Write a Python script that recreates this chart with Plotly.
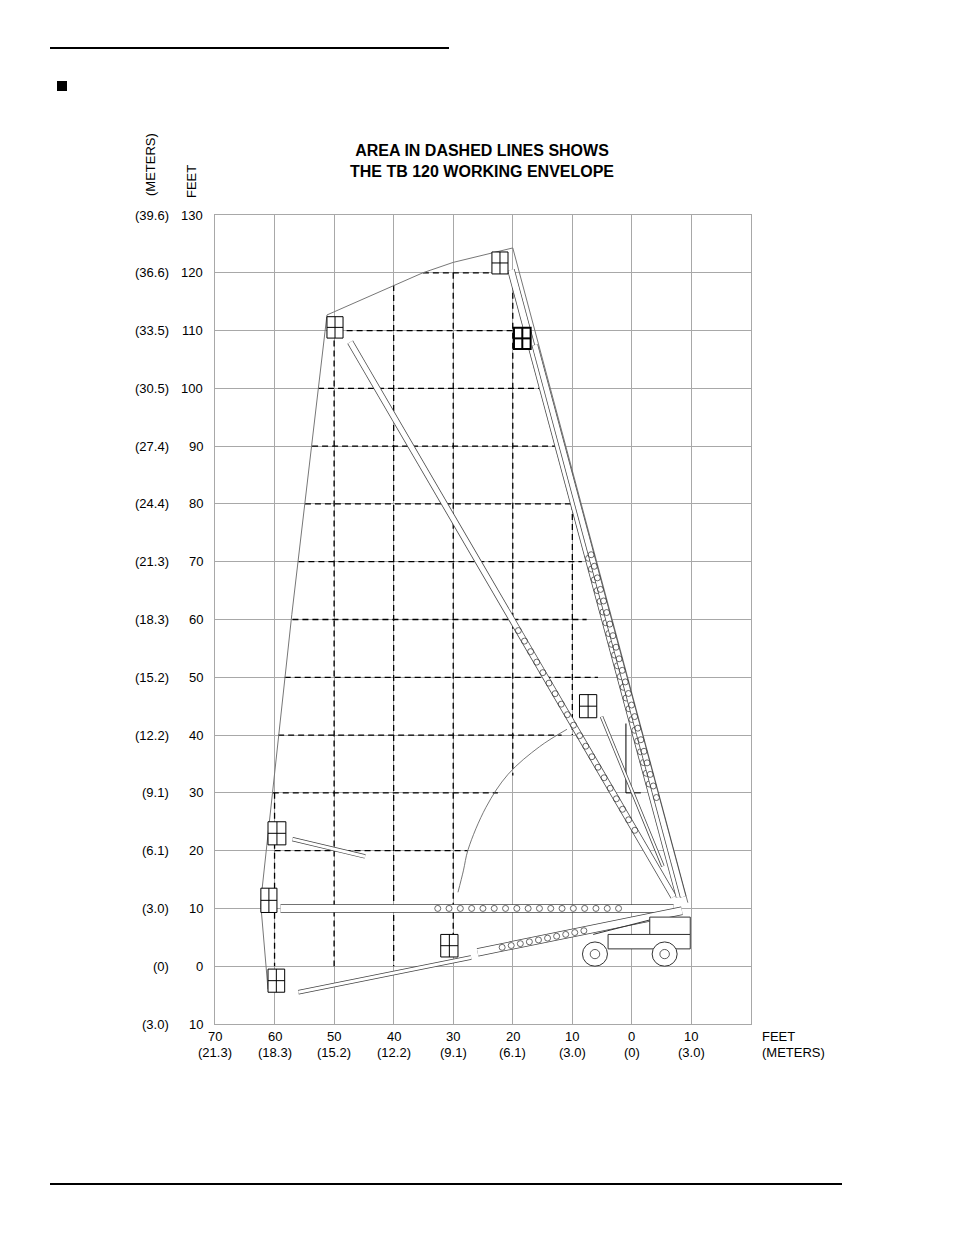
import numpy as np
import plotly.graph_objects as go

# ---- data (feet) ----
x_ticks = [70, 60, 50, 40, 30, 20, 10, 0, -10]
x_tick_ft = ["70", "60", "50", "40", "30", "20", "10", "0", "10"]
x_tick_m = ["(21.3)", "(18.3)", "(15.2)", "(12.2)", "(9.1)", "(6.1)", "(3.0)", "(0)", "(3.0)"]
y_ticks = [130, 120, 110, 100, 90, 80, 70, 60, 50, 40, 30, 20, 10, 0, -10]
y_tick_ft = ["130", "120", "110", "100", "90", "80", "70", "60", "50", "40", "30", "20", "10", "0", "10"]
y_tick_m = ["(39.6)", "(36.6)", "(33.5)", "(30.5)", "(27.4)", "(24.4)", "(21.3)", "(18.3)",
            "(15.2)", "(12.2)", "(9.1)", "(6.1)", "(3.0)", "(0)", "(3.0)"]

# dashed envelope grid
dash_h_y = [120, 110, 100, 90, 80, 70, 60, 50, 40, 30, 20]
dash_h_x0 = [35.1, 47.9, 52.7, 53.7, 54.9, 56.0, 57.0, 58.3, 59.4, 60.3, 60.0]
dash_h_x1 = [20.0, 20.0, 14.6, 11.8, 10.0, 8.4, 7.6, 5.7, 11.8, 22.5, 27.6]
dash_v_x = [60, 50, 40, 30, 20, 10]
dash_v_y0 = [30, 110, 117.9, 120, 120, 80]
dash_v_y1 = [0, 0, 0, 4, 33, 40]

# outer envelope outline
env_x = [20.0, 23.5, 30.0, 35.1, 39.8, 45.5, 51.2, 57.1, 60.4, 62.1, 62.3, 62.1, 61.1]
env_y = [124.3, 123.4, 121.8, 120.0, 117.9, 115.3, 112.7, 60.9, 30.0, 13.3, 10.5, 8.1, -4.0]
right_x = [20.0, -9.4]
right_y = [124.3, 11.0]
# inner swing arc
arc_x = [29.2, 28.3, 27.5, 24.5, 20.8, 15.5, 10.9]
arc_y = [12.8, 16.5, 20.2, 27.5, 33.2, 38.0, 41.0]

# booms: start (platform end) -> end (turntable end)
boom_x0 = [47.3, 20.3, 16.3, 57.0, 59.0, 25.9, 56.0, 5.1]
boom_y0 = [108.0, 120.5, 107.5, 22.0, 10.0, 2.4, -4.5, 43.2]
boom_x1 = [-7.0, -8.0, -8.6, 44.8, -7.0, -8.4, 27.0, -5.2]
boom_y1 = [12.0, 12.0, 12.0, 19.0, 10.0, 9.6, 1.5, 17.3]
boom_w = [5, 6, 5, 3, 7, 7, 3, 2]
# perforated section of each boom (fraction along boom, hole count)
hole_f0 = [0.52, 0.46, 0.38, 0, 0.4, 0.12, 0, 0]
hole_f1 = [0.88, 0.82, 0.82, 0, 0.86, 0.52, 0, 0]
hole_n = [20, 22, 22, 0, 17, 10, 0, 0]

# platforms (left, right, bottom, top)
plat_x0 = [51.2, 23.5, 19.8, 8.8, 61.1, 62.3, 32.1, 61.1]
plat_x1 = [48.5, 20.8, 17.0, 5.9, 58.1, 59.6, 29.2, 58.3]
plat_y0 = [108.7, 119.8, 106.8, 43.0, 21.0, 9.3, 1.6, -4.5]
plat_y1 = [112.4, 123.6, 110.5, 47.0, 25.0, 13.5, 5.5, -0.5]
plat_bold = [False, False, True, False, False, False, False, False]

# chassis
wheel_x = [6.2, -5.5]
wheel_y = [2.1, 2.1]

FONT = "Liberation Sans, Arial, sans-serif"
TXT = dict(size=13, family=FONT, color="black")
fig = go.Figure()

# dashed envelope
for y, a, b in zip(dash_h_y, dash_h_x0, dash_h_x1):
    fig.add_trace(go.Scatter(x=[a, b], y=[y, y], mode="lines",
                             line=dict(color="black", width=1.3, dash="6px,4px"), hoverinfo="skip"))
for x, a, b in zip(dash_v_x, dash_v_y0, dash_v_y1):
    fig.add_trace(go.Scatter(x=[x, x], y=[a, b], mode="lines",
                             line=dict(color="black", width=1.3, dash="6px,4px"), hoverinfo="skip"))

# outline
fig.add_trace(go.Scatter(x=env_x, y=env_y, mode="lines", line=dict(color="#777", width=1), hoverinfo="skip"))
fig.add_trace(go.Scatter(x=right_x, y=right_y, mode="lines", line=dict(color="#777", width=1), hoverinfo="skip"))
fig.add_trace(go.Scatter(x=arc_x, y=arc_y, mode="lines", line=dict(color="#555", width=0.8, shape="spline"), hoverinfo="skip"))
fig.add_trace(go.Scatter(x=[1, 1, -1.5], y=[42, 30, 30], mode="lines", line=dict(color="black", width=1), hoverinfo="skip"))

# booms
for i in range(len(boom_x0)):
    bx = [boom_x0[i], boom_x1[i]]
    by = [boom_y0[i], boom_y1[i]]
    w = boom_w[i]
    fig.add_trace(go.Scatter(x=bx, y=by, mode="lines", line=dict(color="#444", width=w + 1.5), hoverinfo="skip"))
    fig.add_trace(go.Scatter(x=bx, y=by, mode="lines", line=dict(color="white", width=w), hoverinfo="skip"))
    if hole_n[i]:
        f = np.linspace(hole_f0[i], hole_f1[i], hole_n[i])
        hx = boom_x0[i] + f * (boom_x1[i] - boom_x0[i])
        hy = boom_y0[i] + f * (boom_y1[i] - boom_y0[i])
        fig.add_trace(go.Scatter(x=hx, y=hy, mode="markers", hoverinfo="skip",
                                 marker=dict(symbol="circle-open", size=6, color="#444", line=dict(width=0.8))))

shapes = []
for x0, x1, y0, y1, bold in zip(plat_x0, plat_x1, plat_y0, plat_y1, plat_bold):
    lw = 2 if bold else 1
    shapes.append(dict(type="rect", xref="x", yref="y", x0=x0, x1=x1, y0=y0, y1=y1,
                       line=dict(color="black", width=lw), fillcolor="white"))
    shapes.append(dict(type="line", xref="x", yref="y", x0=(x0 + x1) / 2, x1=(x0 + x1) / 2, y0=y0, y1=y1,
                       line=dict(color="black", width=lw)))
    shapes.append(dict(type="line", xref="x", yref="y", x0=x0, x1=x1, y0=(y0 + y1) / 2, y1=(y0 + y1) / 2,
                       line=dict(color="black", width=lw)))
# chassis body
shapes.append(dict(type="rect", xref="x", yref="y", x0=4.0, x1=-9.8, y0=3.0, y1=5.5, line=dict(color="#333", width=1), fillcolor="white"))
shapes.append(dict(type="rect", xref="x", yref="y", x0=-3.0, x1=-9.8, y0=5.5, y1=8.5, line=dict(color="#333", width=1), fillcolor="white"))
shapes.append(dict(type="line", xref="x", yref="y", x0=6.5, x1=-3.0, y0=5.5, y1=8.0, line=dict(color="#333", width=1)))
for wx, wy in zip(wheel_x, wheel_y):
    shapes.append(dict(type="circle", xref="x", yref="y", x0=wx - 2.1, x1=wx + 2.1, y0=wy - 2.1, y1=wy + 2.1,
                       line=dict(color="#333", width=1), fillcolor="white"))
    shapes.append(dict(type="circle", xref="x", yref="y", x0=wx - 0.8, x1=wx + 0.8, y0=wy - 0.8, y1=wy + 0.8,
                       line=dict(color="#333", width=0.8)))


def px(x):
    return (x - 215) / 536


def py(y):
    return (1024 - y) / 809


# page rules and bullet
shapes.append(dict(type="line", xref="paper", yref="paper", x0=px(50), x1=px(449), y0=py(48), y1=py(48),
                   line=dict(color="black", width=2)))
shapes.append(dict(type="line", xref="paper", yref="paper", x0=px(50), x1=px(842), y0=py(1184), y1=py(1184),
                   line=dict(color="black", width=2)))
shapes.append(dict(type="rect", xref="paper", yref="paper", x0=px(57), x1=px(67), y0=py(91), y1=py(81),
                   fillcolor="black", line=dict(width=0)))

ann = []
for v, f, m in zip(y_ticks, y_tick_ft, y_tick_m):
    ann.append(dict(x=px(205), y=v, xref="paper", yref="y", text=f, showarrow=False, xanchor="right",
                    yanchor="middle", font=TXT))
    ann.append(dict(x=px(171), y=v, xref="paper", yref="y", text=m, showarrow=False, xanchor="right",
                    yanchor="middle", font=TXT))
for v, f, m in zip(x_ticks, x_tick_ft, x_tick_m):
    ann.append(dict(x=v, y=py(1036), xref="x", yref="paper", text=f, showarrow=False, yanchor="middle",
                    font=TXT))
    ann.append(dict(x=v, y=py(1052), xref="x", yref="paper", text=m, showarrow=False, yanchor="middle",
                    font=TXT))
ann.append(dict(x=px(760), y=py(1036), xref="paper", yref="paper", text="FEET", showarrow=False,
                xanchor="left", yanchor="middle", font=TXT))
ann.append(dict(x=px(760), y=py(1052), xref="paper", yref="paper", text="(METERS)", showarrow=False,
                xanchor="left", yanchor="middle", font=TXT))
ann.append(dict(x=px(150), y=py(165), xref="paper", yref="paper", text="(METERS)", textangle=-90,
                showarrow=False, xanchor="center", yanchor="middle", font=TXT))
ann.append(dict(x=px(192), y=py(182), xref="paper", yref="paper", text="FEET", textangle=-90,
                showarrow=False, xanchor="center", yanchor="middle", font=TXT))
ann.append(dict(x=px(482), y=py(161), xref="paper", yref="paper",
                text="<b>AREA IN DASHED LINES SHOWS<br>THE TB 120 WORKING ENVELOPE</b>",
                showarrow=False, xanchor="center", yanchor="middle", font=dict(size=16, family=FONT, color="black")))

fig.update_layout(
    width=954, height=1235, showlegend=False,
    paper_bgcolor="white", plot_bgcolor="white",
    margin=dict(l=207, r=211, t=207, b=219),
    shapes=shapes, annotations=ann,
    xaxis=dict(range=[70, -20], tickvals=list(range(-20, 71, 10)), showticklabels=False, showgrid=True,
               gridcolor="#a8a8a8", gridwidth=1, zeroline=False, showline=True, linecolor="#a8a8a8", mirror=True,
               fixedrange=True),
    yaxis=dict(range=[-10, 130], tickvals=list(range(-10, 131, 10)), showticklabels=False, showgrid=True,
               gridcolor="#a8a8a8", gridwidth=1, zeroline=False, showline=True, linecolor="#a8a8a8", mirror=True,
               fixedrange=True),
)

fig.write_html("out.html")
